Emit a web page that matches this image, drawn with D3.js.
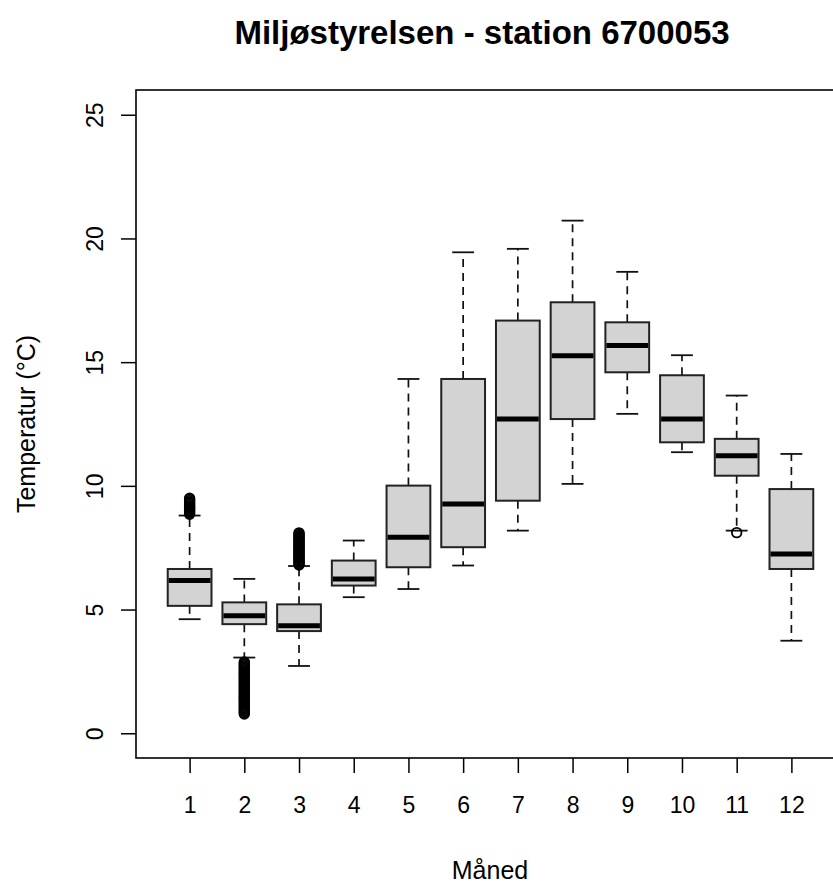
<!DOCTYPE html>
<html>
<head>
<meta charset="utf-8">
<script src="https://cdn.jsdelivr.net/npm/d3@7"></script>
<style>
  body { margin: 0; background: #fff; }
  svg { font-family: "Liberation Sans", Arial, sans-serif; }
</style>
</head>
<body>
<div id="plot"></div>
<script>
    // Monthly box statistics (°C)
    const months = [1, 2, 3, 4, 5, 6, 7, 8, 9, 10, 11, 12];
    const lowerWhisker = [4.61, 3.06, 2.72, 5.50, 5.83, 6.78, 8.19, 10.08, 12.91, 11.36, 8.19, 3.74];
    const q1 = [5.15, 4.41, 4.13, 5.97, 6.71, 7.52, 9.40, 12.70, 14.59, 11.76, 10.41, 6.64];
    const medians = [6.17, 4.75, 4.35, 6.24, 7.92, 9.27, 12.70, 15.26, 15.67, 12.70, 11.22, 7.25];
    const q3 = [6.64, 5.29, 5.21, 6.98, 10.01, 14.32, 16.68, 17.42, 16.61, 14.47, 11.90, 9.87];
    const upperWhisker = [8.80, 6.24, 6.76, 7.79, 14.32, 19.44, 19.58, 20.72, 18.65, 15.28, 13.65, 11.29];

    // Outliers (dense bands in Jan, Feb, Mar)
    const outliersJan = [8.85, 8.9, 8.95, 9.0, 9.05, 9.1, 9.15, 9.2, 9.25, 9.3, 9.35, 9.4, 9.45, 9.5];
    const outliersFeb = [0.78, 0.83, 0.88, 0.93, 0.98, 1.03, 1.08, 1.13, 1.18, 1.23, 1.28, 1.33, 1.38,
                         1.43, 1.48, 1.53, 1.58, 1.63, 1.68, 1.73, 1.78, 1.83, 1.88, 1.93, 1.98, 2.03,
                         2.08, 2.13, 2.18, 2.23, 2.28, 2.33, 2.38, 2.43, 2.48, 2.53, 2.58, 2.63, 2.68,
                         2.73, 2.78, 2.83, 2.88];
    const outliersMar = [6.8, 6.85, 6.9, 6.95, 7.0, 7.05, 7.1, 7.15, 7.2, 7.25, 7.3, 7.35, 7.4, 7.45,
                         7.5, 7.55, 7.6, 7.65, 7.7, 7.75, 7.8, 7.85, 7.9, 7.95, 8.0, 8.05, 8.1];
    const outliersNov = [8.11];

    const yTicks = [0, 5, 10, 15, 20, 25];

    const svgWidth = 833;
    const svgHeight = 883;
    const plot = { left: 136, right: 845, top: 90, bottom: 758 };
    const fontStack = '"Liberation Sans", Arial, sans-serif';

    const svg = d3.select('#plot')
        .append('svg')
        .attr('width', svgWidth)
        .attr('height', svgHeight);

    // R style scales: xlim 0.5..12.5 and ylim 0..25, each widened by 4%
    const xScale = d3.scaleLinear()
        .domain([0.02, 12.98])
        .range([plot.left, plot.right]);

    const yScale = d3.scaleLinear()
        .domain([-1, 26])
        .range([plot.bottom, plot.top]);

    const boxes = months.map((m, i) => ({
        month: m,
        lo: lowerWhisker[i], q1: q1[i], med: medians[i], q3: q3[i], hi: upperWhisker[i]
    }));

    const outliers = [];
    outliersJan.forEach(v => outliers.push({ month: 1, value: v }));
    outliersFeb.forEach(v => outliers.push({ month: 2, value: v }));
    outliersMar.forEach(v => outliers.push({ month: 3, value: v }));
    outliersNov.forEach(v => outliers.push({ month: 11, value: v }));

    const unit = xScale(2) - xScale(1);
    const boxW = unit * 0.8;
    const stapleW = boxW * 0.5;

    const g = svg.append('g').attr('class', 'boxes');

    // whiskers (dashed)
    g.selectAll('.whisker-up')
        .data(boxes)
        .enter()
        .append('line')
        .attr('x1', d => xScale(d.month))
        .attr('x2', d => xScale(d.month))
        .attr('y1', d => yScale(d.q3))
        .attr('y2', d => yScale(d.hi))
        .attr('stroke', '#111')
        .attr('stroke-width', 1.7)
        .attr('stroke-dasharray', '8,6');

    g.selectAll('.whisker-down')
        .data(boxes)
        .enter()
        .append('line')
        .attr('x1', d => xScale(d.month))
        .attr('x2', d => xScale(d.month))
        .attr('y1', d => yScale(d.q1))
        .attr('y2', d => yScale(d.lo))
        .attr('stroke', '#111')
        .attr('stroke-width', 1.7)
        .attr('stroke-dasharray', '8,6');

    // staples
    ['hi', 'lo'].forEach(k => {
        g.selectAll('.staple-' + k)
            .data(boxes)
            .enter()
            .append('line')
            .attr('x1', d => xScale(d.month) - stapleW / 2)
            .attr('x2', d => xScale(d.month) + stapleW / 2)
            .attr('y1', d => yScale(d[k]))
            .attr('y2', d => yScale(d[k]))
            .attr('stroke', '#111')
            .attr('stroke-width', 1.8);
    });

    // boxes
    g.selectAll('.box')
        .data(boxes)
        .enter()
        .append('rect')
        .attr('x', d => xScale(d.month) - boxW / 2)
        .attr('y', d => yScale(d.q3))
        .attr('width', boxW)
        .attr('height', d => yScale(d.q1) - yScale(d.q3))
        .attr('fill', '#d3d3d3')
        .attr('stroke', '#222')
        .attr('stroke-width', 2);

    // medians
    g.selectAll('.median')
        .data(boxes)
        .enter()
        .append('line')
        .attr('x1', d => xScale(d.month) - boxW / 2 + 1)
        .attr('x2', d => xScale(d.month) + boxW / 2 - 1)
        .attr('y1', d => yScale(d.med))
        .attr('y2', d => yScale(d.med))
        .attr('stroke', '#000')
        .attr('stroke-width', 5);

    // outliers (open circles)
    g.selectAll('.outlier')
        .data(outliers)
        .enter()
        .append('circle')
        .attr('cx', d => xScale(d.month))
        .attr('cy', d => yScale(d.value))
        .attr('r', 4.8)
        .attr('fill', 'none')
        .attr('stroke', '#000')
        .attr('stroke-width', 1.8);

    // plot frame
    svg.append('rect')
        .attr('x', plot.left)
        .attr('y', plot.top)
        .attr('width', plot.right - plot.left)
        .attr('height', plot.bottom - plot.top)
        .attr('fill', 'none')
        .attr('stroke', '#000')
        .attr('stroke-width', 1.6);

    // x axis
    const xAxis = svg.append('g')
        .attr('class', 'x-axis')
        .attr('transform', `translate(0, ${plot.bottom})`)
        .call(d3.axisBottom(xScale).tickValues(months).tickSize(15).tickPadding(24).tickFormat(d3.format('d')));
    xAxis.select('.domain').remove();
    xAxis.selectAll('line').attr('stroke', '#000').attr('stroke-width', 1.5);
    xAxis.selectAll('text').attr('font-size', 23).attr('fill', '#000')
        .style('font-family', fontStack);

    // y axis, labels rotated like R
    const yAxis = svg.append('g')
        .attr('class', 'y-axis')
        .attr('transform', `translate(${plot.left}, 0)`)
        .call(d3.axisLeft(yScale).tickValues(yTicks).tickSize(15));
    yAxis.select('.domain').remove();
    yAxis.selectAll('line').attr('stroke', '#000').attr('stroke-width', 1.5);
    yAxis.selectAll('text')
        .attr('x', null).attr('dy', null)
        .attr('transform', 'translate(-41, 0) rotate(-90)')
        .attr('text-anchor', 'middle')
        .attr('dominant-baseline', 'central')
        .attr('font-size', 23).attr('fill', '#000')
        .style('font-family', fontStack);

    // title
    svg.append('text')
        .attr('x', 482)
        .attr('y', 44)
        .attr('text-anchor', 'middle')
        .attr('font-size', 33)
        .attr('font-weight', 'bold')
        .text('Miljøstyrelsen - station 6700053');

    // axis labels
    svg.append('text')
        .attr('x', 490)
        .attr('y', 879)
        .attr('text-anchor', 'middle')
        .attr('font-size', 25)
        .text('Måned');

    svg.append('text')
        .attr('transform', `translate(35, ${(plot.top + plot.bottom) / 2}) rotate(-90)`)
        .attr('text-anchor', 'middle')
        .attr('font-size', 25)
        .text('Temperatur (°C)');
</script>
</body>
</html>
